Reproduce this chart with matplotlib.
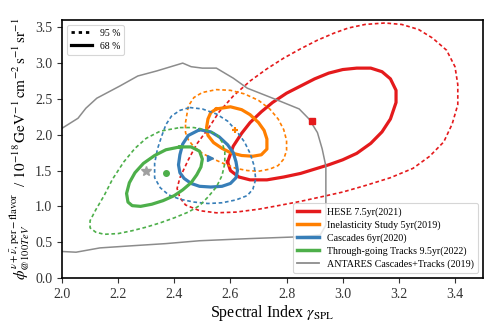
import matplotlib
matplotlib.use("Agg")
import matplotlib.pyplot as plt
from matplotlib.lines import Line2D

plt.rcParams['font.family'] = ['Liberation Serif', 'DejaVu Serif']
plt.rcParams['mathtext.fontset'] = 'stix'

RED, ORANGE, BLUE, GREEN, GREY = '#e41a1c', '#ff7f00', '#377eb8', '#4daf4a', '#8c8c8c'

# ---- data (gamma, flux) ----
hese68_x = [2.59, 2.61, 2.64, 2.67, 2.71, 2.75, 2.80, 2.85, 2.90, 2.95, 3.00, 3.05, 3.10, 3.14, 3.17, 3.19, 3.19, 3.17, 3.14, 3.10, 3.05, 3.00, 2.95, 2.90, 2.85, 2.79, 2.73, 2.67, 2.63, 2.60, 2.59]
hese68_y = [1.62, 1.84, 2.02, 2.17, 2.32, 2.45, 2.58, 2.68, 2.78, 2.86, 2.91, 2.93, 2.93, 2.88, 2.78, 2.62, 2.45, 2.22, 2.04, 1.88, 1.74, 1.65, 1.58, 1.52, 1.46, 1.41, 1.37, 1.37, 1.41, 1.50, 1.62]
hese95_x = [2.42, 2.45, 2.48, 2.52, 2.56, 2.61, 2.67, 2.73, 2.79, 2.85, 2.91, 2.97, 3.02, 3.08, 3.15, 3.21, 3.27, 3.32, 3.37, 3.40, 3.41, 3.41, 3.39, 3.36, 3.31, 3.25, 3.17, 3.08, 3.00, 2.92, 2.85, 2.77, 2.70, 2.62, 2.55, 2.49, 2.44, 2.42, 2.41, 2.42]
hese95_y = [1.40, 1.65, 1.87, 2.08, 2.32, 2.54, 2.75, 2.92, 3.07, 3.20, 3.32, 3.42, 3.49, 3.54, 3.56, 3.54, 3.47, 3.35, 3.18, 2.95, 2.70, 2.42, 2.15, 1.90, 1.70, 1.53, 1.40, 1.29, 1.20, 1.13, 1.07, 1.01, 0.96, 0.92, 0.91, 0.94, 1.02, 1.12, 1.25, 1.40]

inel68_x = [2.55, 2.60, 2.64, 2.67, 2.70, 2.72, 2.73, 2.73, 2.71, 2.68, 2.64, 2.60, 2.57, 2.54, 2.52, 2.515, 2.52, 2.53, 2.55]
inel68_y = [2.36, 2.39, 2.35, 2.28, 2.17, 2.06, 1.94, 1.80, 1.72, 1.70, 1.71, 1.75, 1.81, 1.89, 1.99, 2.10, 2.22, 2.31, 2.36]
inel95_x = [2.44, 2.45, 2.47, 2.50, 2.55, 2.60, 2.65, 2.70, 2.74, 2.77, 2.79, 2.80, 2.80, 2.79, 2.77, 2.74, 2.70, 2.66, 2.62, 2.58, 2.54, 2.50, 2.47, 2.45, 2.44, 2.44]
inel95_y = [2.17, 2.40, 2.52, 2.59, 2.63, 2.62, 2.57, 2.48, 2.36, 2.22, 2.07, 1.92, 1.78, 1.66, 1.57, 1.52, 1.49, 1.50, 1.53, 1.59, 1.66, 1.74, 1.83, 1.93, 2.03, 2.17]

casc68_x = [2.49, 2.53, 2.56, 2.59, 2.61, 2.62, 2.625, 2.62, 2.60, 2.57, 2.53, 2.49, 2.46, 2.435, 2.42, 2.415, 2.42, 2.43, 2.45, 2.49]
casc68_y = [2.07, 2.04, 1.97, 1.86, 1.75, 1.62, 1.50, 1.40, 1.32, 1.28, 1.27, 1.28, 1.32, 1.39, 1.47, 1.58, 1.72, 1.87, 1.99, 2.07]
casc95_x = [2.455, 2.50, 2.55, 2.59, 2.62, 2.65, 2.67, 2.685, 2.69, 2.68, 2.66, 2.62, 2.57, 2.52, 2.47, 2.42, 2.38, 2.35, 2.33, 2.33, 2.34, 2.355, 2.37, 2.39, 2.42, 2.455]
casc95_y = [2.38, 2.36, 2.29, 2.19, 2.06, 1.90, 1.74, 1.56, 1.38, 1.24, 1.15, 1.09, 1.05, 1.04, 1.06, 1.10, 1.16, 1.26, 1.40, 1.60, 1.80, 1.98, 2.14, 2.26, 2.34, 2.38]

trk68_x = [2.42, 2.46, 2.49, 2.50, 2.495, 2.48, 2.46, 2.43, 2.40, 2.36, 2.32, 2.28, 2.25, 2.235, 2.23, 2.24, 2.26, 2.29, 2.33, 2.37, 2.42]
trk68_y = [1.83, 1.83, 1.77, 1.66, 1.55, 1.44, 1.33, 1.23, 1.15, 1.08, 1.03, 1.00, 1.01, 1.06, 1.18, 1.33, 1.47, 1.60, 1.71, 1.79, 1.83]
trk95_x = [2.42, 2.47, 2.51, 2.55, 2.57, 2.58, 2.58, 2.57, 2.55, 2.52, 2.49, 2.45, 2.40, 2.35, 2.30, 2.25, 2.20, 2.15, 2.12, 2.10, 2.10, 2.12, 2.15, 2.18, 2.22, 2.26, 2.30, 2.35, 2.42]
trk95_y = [2.10, 2.10, 2.07, 2.01, 1.90, 1.76, 1.60, 1.43, 1.27, 1.13, 1.01, 0.92, 0.84, 0.77, 0.71, 0.66, 0.62, 0.61, 0.64, 0.70, 0.80, 0.95, 1.15, 1.38, 1.62, 1.81, 1.95, 2.05, 2.10]

ant_x = [2.00, 2.057, 2.085, 2.124, 2.206, 2.27, 2.337, 2.43, 2.46, 2.50, 2.55, 2.61, 2.66, 2.757, 2.845, 2.88, 2.91, 2.927, 2.94, 2.94, 2.94, 2.92, 2.845, 2.668, 2.49, 2.37, 2.25, 2.135, 2.05, 2.00]
ant_y = [2.09, 2.23, 2.37, 2.51, 2.68, 2.82, 2.89, 3.00, 2.95, 2.93, 2.93, 2.79, 2.65, 2.50, 2.36, 2.22, 2.03, 1.80, 1.56, 1.09, 0.74, 0.60, 0.575, 0.55, 0.52, 0.48, 0.45, 0.42, 0.36, 0.37]

best_x = {'hese': 2.89, 'inel': 2.615, 'casc': 2.526, 'trk': 2.37, 'ant': 2.30}
best_y = {'hese': 2.19, 'inel': 2.06, 'casc': 1.67, 'trk': 1.46, 'ant': 1.50}

labels = ['HESE 7.5yr(2021)', 'Inelasticity Study 5yr(2019)', 'Cascades 6yr(2020)',
          'Through-going Tracks 9.5yr(2022)', 'ANTARES Cascades+Tracks (2019)']

fig = plt.figure(figsize=(4.98, 3.30), dpi=100)
ax = fig.add_axes([0.1245, 0.1576, 0.8455, 0.7814])

dash = (0, (2.2, 1.6))
lw68, lw95 = 2.3, 1.2
for (x68, y68, x95, y95, c) in [
        (hese68_x, hese68_y, hese95_x, hese95_y, RED),
        (inel68_x, inel68_y, inel95_x, inel95_y, ORANGE),
        (casc68_x, casc68_y, casc95_x, casc95_y, BLUE),
        (trk68_x, trk68_y, trk95_x, trk95_y, GREEN)]:
    ax.plot(x95, y95, color=c, lw=lw95, ls=dash)
    ax.plot(x68, y68, color=c, lw=lw68, solid_joinstyle='round')

ax.plot(ant_x, ant_y, color=GREY, lw=1.1)

ax.plot(best_x['hese'], best_y['hese'], 's', color=RED, ms=4)
ax.plot(best_x['inel'], best_y['inel'], '+', color=ORANGE, ms=5, mew=1.5)
ax.plot(best_x['casc'], best_y['casc'], '>', color=BLUE, ms=4)
ax.plot(best_x['trk'], best_y['trk'], 'o', color=GREEN, ms=4)
ax.plot(best_x['ant'], best_y['ant'], '*', color='#a0a0a0', ms=7)

ax.set_xlim(2.0, 3.5)
ax.set_ylim(0.0, 3.6)
ax.set_xticks([2.0, 2.2, 2.4, 2.6, 2.8, 3.0, 3.2, 3.4])
ax.set_yticks([0.0, 0.5, 1.0, 1.5, 2.0, 2.5, 3.0, 3.5])
ax.tick_params(labelsize=10, length=3.5, width=0.8, colors='#333333', labelcolor='#333333')
for s in ax.spines.values():
    s.set_linewidth(1.2)

ax.set_xlabel(r'Spectral Index $\gamma_{\mathrm{SPL}}$', fontsize=11.5, labelpad=2)
ax.set_ylabel(r'$\phi^{\nu+\bar{\nu},\mathrm{per-flavor}}_{@100TeV}$  / $10^{-18}\,\mathrm{GeV^{-1}\,cm^{-2}\,s^{-1}\,sr^{-1}}$',
              fontsize=11, labelpad=2)

handles = [Line2D([], [], color=c, lw=lw) for c, lw in
           [(RED, 2.5), (ORANGE, 2.5), (BLUE, 2.5), (GREEN, 2.5), (GREY, 1.3)]]
leg = ax.legend(handles, labels, loc='lower right', fontsize=7.2, frameon=True,
                handlelength=2.2, borderpad=0.4, labelspacing=0.35, handletextpad=0.8)
leg.get_frame().set_linewidth(0.8)
ax.add_artist(leg)

h2 = [Line2D([], [], color='black', lw=2, ls=(0, (1.2, 1.4))),
      Line2D([], [], color='black', lw=2.3)]
leg2 = ax.legend(h2, ['95 %', '68 %'], loc='upper left', fontsize=7, frameon=True,
                 handlelength=2.2, borderpad=0.4, labelspacing=0.4, handletextpad=0.8)
leg2.get_frame().set_linewidth(0.8)

fig.savefig('out.png', dpi=100)
